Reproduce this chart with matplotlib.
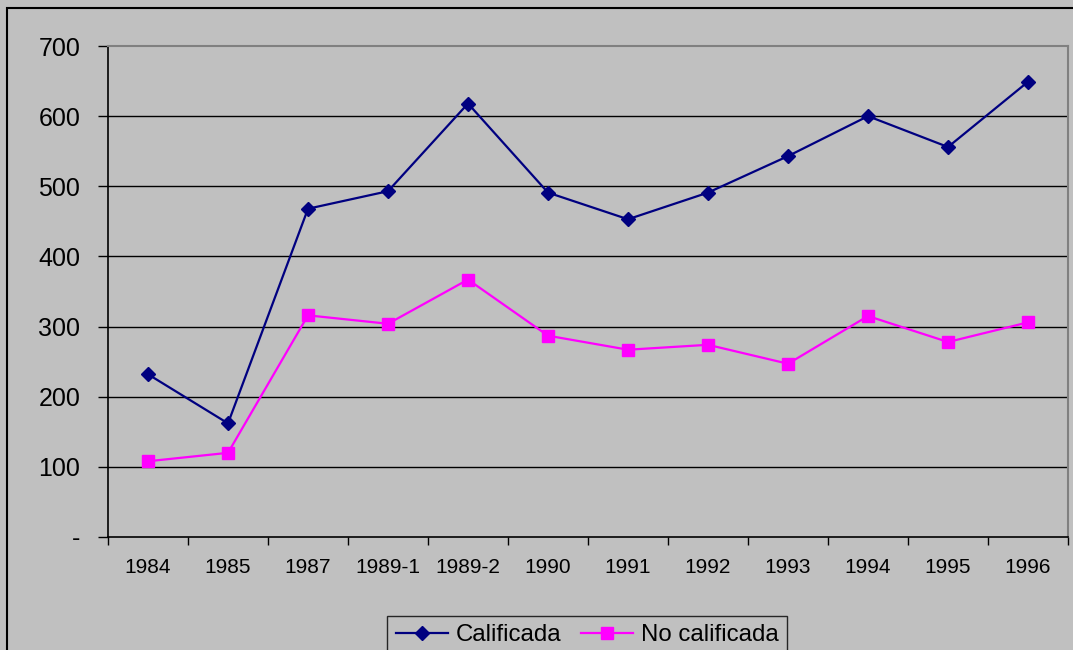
import matplotlib.pyplot as plt
from matplotlib.patches import Rectangle

categories = ['1984', '1985', '1987', '1989-1', '1989-2', '1990', '1991',
              '1992', '1993', '1994', '1995', '1996']
calificada = [232, 162, 468, 493, 618, 491, 453, 491, 543, 600, 556, 649]
no_calificada = [108, 120, 316, 304, 367, 287, 267, 274, 247, 315, 278, 306]
yticks = [0, 100, 200, 300, 400, 500, 600, 700]
ytick_labels = ['-', '100', '200', '300', '400', '500', '600', '700']

plt.rcParams['font.family'] = ['Liberation Sans', 'DejaVu Sans']
bg = '#c0c0c0'

fig = plt.figure(figsize=(10.73, 6.5), dpi=100, facecolor=bg)
ax = fig.add_axes([108 / 1073, 113 / 650, 960 / 1073, 491 / 650])
ax.set_facecolor(bg)

# outer chart border
fig.patches.append(Rectangle((7 / 1073, -0.05), 1.1, 1 - 8 / 650 + 0.05,
                             transform=fig.transFigure, fill=False,
                             edgecolor='black', linewidth=1.5))

x = list(range(len(categories)))
ax.plot(x, calificada, color='#000080', marker='D', markersize=7,
        linewidth=1.6, label='Calificada')
ax.plot(x, no_calificada, color='#ff00ff', marker='s', markersize=8,
        linewidth=1.6, label='No calificada')

ax.set_xlim(-0.5, len(categories) - 0.5)
ax.set_ylim(0, 700)
ax.set_yticks(yticks)
ax.set_yticklabels(ytick_labels, fontsize=18)
ax.set_xticks([i - 0.5 for i in range(len(categories) + 1)])
ax.set_xticklabels([])
ax.set_xticks(x, minor=True)
ax.set_xticklabels(categories, minor=True, fontsize=15)
ax.tick_params(axis='x', which='minor', length=0, pad=15)
ax.tick_params(axis='x', which='major', length=6, width=1, color='black')
ax.tick_params(axis='y', length=7, width=1, pad=13)

for v in yticks[1:-1]:
    ax.axhline(v, color='black', linewidth=1, zorder=0)

for s in ['top', 'right']:
    ax.spines[s].set_color('#808080')
    ax.spines[s].set_linewidth(1.5)
for s in ['left', 'bottom']:
    ax.spines[s].set_color('black')
    ax.spines[s].set_linewidth(1.2)

leg = fig.legend(loc='upper center', bbox_to_anchor=(587 / 1073, 1 - 604 / 650),
                 ncol=2, fontsize=17.3, frameon=True, fancybox=False,
                 handlelength=2.2, columnspacing=0.8, handletextpad=0.3,
                 borderpad=0.35)
leg.get_frame().set_edgecolor('black')
leg.get_frame().set_facecolor(bg)
leg.get_frame().set_linewidth(1)

fig.savefig('out.png', dpi=100, facecolor=bg)
